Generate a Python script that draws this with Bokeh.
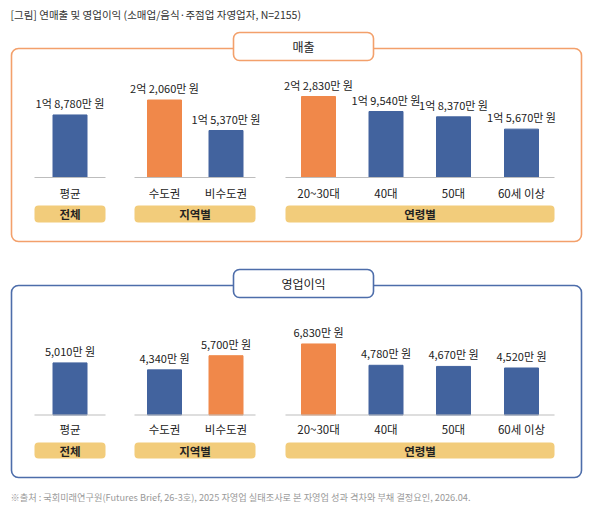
from bokeh.plotting import figure
from bokeh.models import Range1d, BoxAnnotation, ColumnDataSource
from bokeh.core.properties import value
from bokeh.embed import file_html
from bokeh.resources import INLINE

# ---------------- data ----------------
title_text = "[그림] 연매출 및 영업이익 (소매업/음식·주점업 자영업자, N=2155)"
footer_text = "※출처 : 국회미래연구원(Futures Brief, 26-3호), 2025 자영업 실태조사로 본 자영업 성과 격차와 부채 결정요인, 2026.04."
panel_titles = ["매출", "영업이익"]
categories = ["평균", "수도권", "비수도권", "20~30대", "40대", "50대", "60세 이상"]
groups = ["전체", "지역별", "연령별"]
group_of = [0, 1, 1, 2, 2, 2, 2]
revenue = [18780, 22060, 15370, 22830, 19540, 18370, 15670]   # 만 원
profit = [5010, 4340, 5700, 6830, 4780, 4670, 4520]            # 만 원

# ---------------- layout / style ----------------
W, H = 593, 516
FONT = "Noto Sans CJK KR"
ORANGE = "#F0884A"
BLUE = "#42639E"
PILL = "#F2CC7B"
bar_x = [69.5, 164, 225.5, 318, 385.5, 453, 521]
bar_w = 34
group_spans = [(34, 105), (134, 255), (285, 554)]
panels = [
    dict(values=revenue, top=48, bottom=241, base_px=177, zero=5060, k=0.004558,
         color="#F3A06B", pill=(205, 222), label_y=192, tbox=(32, 60)),
    dict(values=profit, top=285, bottom=477, base_px=414.5, zero=0, k=0.0104,
         color="#4D6DAA", pill=(442, 458), label_y=428, tbox=(269, 297)),
]


def fmt(v):
    eok, man = divmod(int(v), 10000)
    if eok:
        return f"{eok}억 {man:,}만 원"
    return f"{man:,}만 원"


p = figure(width=W, height=H, x_range=Range1d(0, W), y_range=Range1d(H, 0),
           output_backend="svg", toolbar_location=None, min_border=0,
           background_fill_color="white", border_fill_color="white")
p.axis.visible = False
p.grid.visible = False
p.outline_line_color = None

# title & footer
p.text(x=[10], y=[14], text=[title_text], text_font=value(FONT), text_font_size="10.5px",
       text_color="#333333", text_baseline="middle", text_align="left")
p.text(x=[10], y=[496], text=[footer_text], text_font=value(FONT), text_font_size="9.2px",
       text_color="#9a9a9a", text_baseline="middle", text_align="left")

for i, pn in enumerate(panels):
    vals = pn["values"]
    # panel frame
    p.add_layout(BoxAnnotation(left=11, right=581, top=pn["top"], bottom=pn["bottom"],
                               fill_alpha=0, line_color=pn["color"], line_alpha=1,
                               line_width=1.6, border_radius=7, level="underlay"))
    # panel title box
    p.add_layout(BoxAnnotation(left=233, right=373, top=pn["tbox"][0], bottom=pn["tbox"][1],
                               fill_color="white", fill_alpha=1, line_color=pn["color"],
                               line_alpha=1, line_width=1.6, border_radius=6,
                               level="underlay"))
    p.text(x=[(233 + 373) / 2], y=[(pn["tbox"][0] + pn["tbox"][1]) / 2], text=[panel_titles[i]],
           text_font=value(FONT), text_font_size="12px", text_color="#222222",
           text_align="center", text_baseline="middle")

    # scale for this panel's values
    rname = f"v{i}"
    p.extra_y_ranges[rname] = Range1d(start=pn["zero"] - (H - pn["base_px"]) / pn["k"],
                                      end=pn["zero"] + pn["base_px"] / pn["k"])

    # highlight the max of each multi-bar group
    colors = []
    for j, v in enumerate(vals):
        g = group_of[j]
        members = [vals[m] for m in range(len(vals)) if group_of[m] == g]
        colors.append(ORANGE if len(members) > 1 and v == max(members) else BLUE)

    src = ColumnDataSource(dict(x=bar_x, v=vals, c=colors, lab=[fmt(v) for v in vals],
                                cat=categories))
    p.vbar(x="x", top="v", bottom=pn["zero"], width=bar_w, fill_color="c",
           line_color="c", source=src, y_range_name=rname)
    p.text(x="x", y="v", text="lab", source=src, y_range_name=rname,
           text_font=value(FONT), text_font_size="11px", text_color="#222222",
           text_align="center", text_baseline="bottom", y_offset=-4)

    # baselines per group
    p.segment(x0=[s[0] for s in group_spans], x1=[s[1] for s in group_spans],
              y0=[pn["base_px"]] * 3, y1=[pn["base_px"]] * 3,
              line_color="#BDBDBD", line_width=1.2)

    # category labels
    p.text(x=bar_x, y=[pn["label_y"]] * len(categories), text=categories,
           text_font=value(FONT), text_font_size="11.5px", text_color="#222222",
           text_align="center", text_baseline="middle")

    # group pills
    for gi, (a, b) in enumerate(group_spans):
        p.add_layout(BoxAnnotation(left=a, right=b, top=pn["pill"][0], bottom=pn["pill"][1],
                                   fill_color=PILL, fill_alpha=1, line_color=None,
                                   border_radius=4, level="underlay"))
    p.text(x=[(a + b) / 2 for a, b in group_spans], y=[sum(pn["pill"]) / 2] * 3, text=groups,
           text_font=value(FONT), text_font_size="11.5px", text_font_style="bold",
           text_color="#222222", text_align="center", text_baseline="middle")

open("out.html", "w").write(file_html(p, INLINE))
